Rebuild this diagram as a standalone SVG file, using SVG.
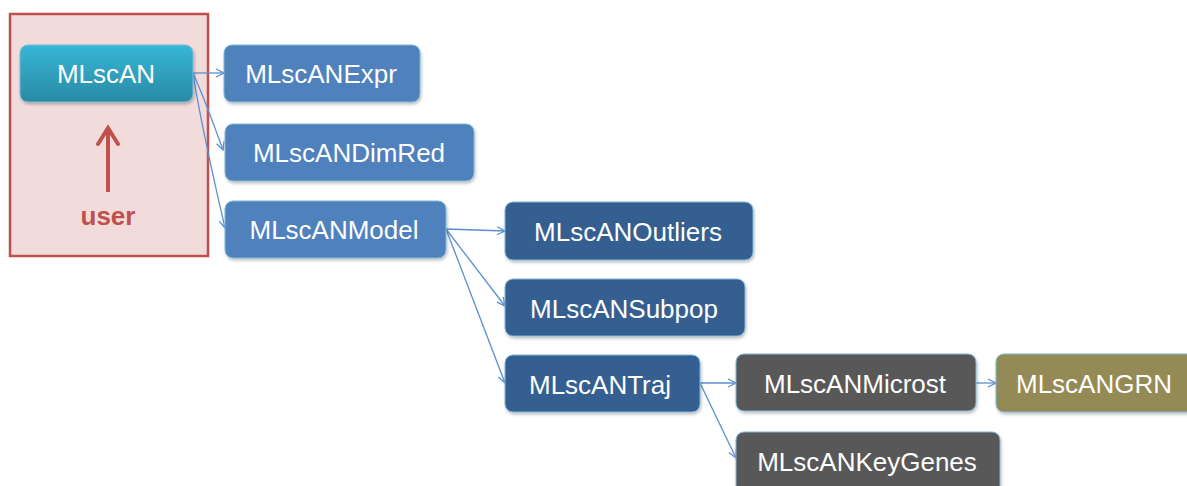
<svg xmlns="http://www.w3.org/2000/svg" width="1187" height="486" viewBox="0 0 1187 486">
<style>
.n{stroke:#7fb8d6;stroke-width:1;filter:url(#sh)}
.t{font-family:"Liberation Sans",Arial,sans-serif;font-size:26px;fill:#fff;text-anchor:middle;dominant-baseline:central}
.c{fill:none;stroke:#5b8ed0;stroke-width:1.3;marker-end:url(#ah)}
.l1{fill:#4f81bd}.l2{fill:#355f91}.g{fill:#595959}.o{fill:#948a54}
</style>
<defs>
<linearGradient id="tg" x1="0" y1="0" x2="0" y2="1"><stop offset="0" stop-color="#37b6d8"/><stop offset="1" stop-color="#2a8aa3"/></linearGradient>
<filter id="sh" x="-10%" y="-10%" width="120%" height="130%"><feDropShadow dx="1" dy="2" stdDeviation="1.5" flood-color="#000" flood-opacity="0.25"/></filter>
<marker id="ah" viewBox="0 0 10 10" refX="9" refY="5" markerWidth="10" markerHeight="10" markerUnits="userSpaceOnUse" orient="auto"><path d="M1,1 L9,5 L1,9" fill="none" stroke="#5b8ed0" stroke-width="1.3"/></marker>
</defs>
<g id="userbox">
<rect x="10" y="14" width="198" height="242" fill="#f2dcdb" stroke="#c0504d" stroke-width="2.5"/>
<line x1="108" y1="192" x2="108" y2="129" stroke="#c0504d" stroke-width="4"/>
<path d="M98,144 L108,128 L118,144" fill="none" stroke="#c0504d" stroke-width="4" stroke-linejoin="miter" stroke-linecap="round"/>
<text x="108" y="216" font-family="Liberation Sans,Arial,sans-serif" font-size="26" font-weight="bold" fill="#c0504d" text-anchor="middle" dominant-baseline="central">user</text>
</g>
<g id="connectors">
<line class="c" x1="193" y1="73" x2="224" y2="73"/>
<path class="c" d="M193,73 Q205,100 223,150"/>
<path class="c" d="M193,73 Q200,120 225,228"/>
<line class="c" x1="446" y1="229" x2="505" y2="231"/>
<line class="c" x1="446" y1="229" x2="505" y2="306"/>
<line class="c" x1="446" y1="229" x2="505" y2="383"/>
<line class="c" x1="700" y1="383" x2="736" y2="383"/>
<line class="c" x1="700" y1="383" x2="736" y2="458"/>
<line class="c" x1="976" y1="383" x2="996" y2="383"/>
</g>
<g id="MLscAN"><rect class="n" x="20" y="45" width="173" height="57" rx="8" fill="url(#tg)"/><text class="t" x="106" y="74">MLscAN</text></g>
<g id="MLscANExpr"><rect class="n l1" x="224" y="45" width="196" height="57" rx="8"/><text class="t" x="321" y="74">MLscANExpr</text></g>
<g id="MLscANDimRed"><rect class="n l1" x="225" y="124" width="249" height="57" rx="8"/><text class="t" x="349" y="153">MLscANDimRed</text></g>
<g id="MLscANModel"><rect class="n l1" x="225" y="201" width="221" height="57" rx="8"/><text class="t" x="334" y="230">MLscANModel</text></g>
<g id="MLscANOutliers"><rect class="n l2" x="505" y="202" width="248" height="58" rx="8"/><text class="t" x="628" y="232">MLscANOutliers</text></g>
<g id="MLscANSubpop"><rect class="n l2" x="505" y="279" width="240" height="57" rx="8"/><text class="t" x="624" y="309">MLscANSubpop</text></g>
<g id="MLscANTraj"><rect class="n l2" x="505" y="355" width="195" height="57" rx="8"/><text class="t" x="600" y="385">MLscANTraj</text></g>
<g id="MLscANMicrost"><rect class="n g" x="736" y="354" width="240" height="57" rx="8"/><text class="t" x="855" y="384">MLscANMicrost</text></g>
<g id="MLscANGRN"><rect class="n o" x="996" y="354" width="200" height="58" rx="8"/><text class="t" x="1094" y="384">MLscANGRN</text></g>
<g id="MLscANKeyGenes"><rect class="n g" x="736" y="432" width="264" height="64" rx="8"/><text class="t" x="867" y="462">MLscANKeyGenes</text></g>
</svg>
